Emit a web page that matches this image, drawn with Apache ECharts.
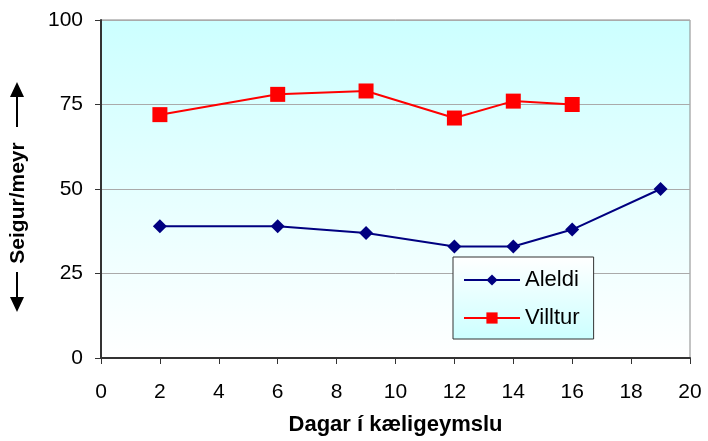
<!DOCTYPE html>
<html>
<head>
<meta charset="utf-8">
<script src="https://cdn.jsdelivr.net/npm/echarts@6/dist/echarts.min.js"></script>
<style>
  html, body { margin: 0; padding: 0; background: #fff; }
  #chart { width: 708px; height: 441px; }
</style>
</head>
<body>
<div id="chart"></div>
<script>
// dagar í kæligeymslu
const aleldiDays = [2, 6, 9, 12, 14, 16, 19]
const aleldiValues = [39, 39, 37, 33, 33, 38, 50]
const villturDays = [2, 6, 9, 12, 14, 16]
const villturValues = [72, 78, 79, 71, 76, 75]
const yTicks = [0, 25, 50, 75, 100]

const font = 'Liberation Sans, Arial, sans-serif'
const chart = echarts.init(document.getElementById('chart'))

const option = {
  animation: false,
  textStyle: { fontFamily: font },
  grid: {
    left: 101, right: 18, top: 20, bottom: 81,
    show: true,
    borderColor: '#888',
    borderWidth: 1,
    backgroundColor: new echarts.graphic.LinearGradient(0, 0, 0, 1, [
      { offset: 0, color: '#ccffff' },
      { offset: 1, color: '#ffffff' }
    ])
  },
  legend: {
    orient: 'vertical',
    left: 453,
    top: 257,
    itemWidth: 56,
    itemHeight: 14,
    itemGap: 16,
    padding: [12, 14, 10, 10],
    borderColor: '#333',
    borderWidth: 1,
    backgroundColor: new echarts.graphic.LinearGradient(0, 0, 0, 1, [
      { offset: 0, color: '#ffffff' },
      { offset: 1, color: '#ccffff' }
    ]),
    textStyle: { fontSize: 22, color: '#000', fontFamily: font },
    data: ['Aleldi', 'Villtur']
  },
  xAxis: {
    type: 'value',
    min: 0, max: 20, interval: 2,
    name: 'Dagar í kæligeymslu',
    nameLocation: 'middle',
    nameGap: 56,
    nameTextStyle: { fontSize: 22, fontWeight: 'bold', color: '#000', fontFamily: font },
    axisLine: { onZero: false, lineStyle: { color: '#333', width: 2 } },
    axisTick: { show: true, length: 6, inside: false, lineStyle: { color: '#333' } },
    axisLabel: { fontSize: 21, color: '#000', margin: 24, fontFamily: font },
    splitLine: { show: false }
  },
  yAxis: {
    type: 'value',
    min: 0, max: 100, interval: 25,
    axisLine: { show: true, lineStyle: { color: '#333', width: 2 } },
    axisTick: { show: true, length: 6, lineStyle: { color: '#333' } },
    axisLabel: {
      fontSize: 21, color: '#000', margin: 18, fontFamily: font,
      formatter: v => yTicks.includes(v) ? String(v) : ''
    },
    splitLine: { show: true, lineStyle: { color: '#aaa', width: 1 } }
  },
  series: [
    {
      name: 'Aleldi',
      type: 'line',
      data: aleldiDays.map((d, i) => [d, aleldiValues[i]]),
      symbol: 'diamond',
      symbolSize: 14,
      color: '#000080',
      lineStyle: { color: '#000080', width: 2 },
      itemStyle: { color: '#000080' }
    },
    {
      name: 'Villtur',
      type: 'line',
      data: villturDays.map((d, i) => [d, villturValues[i]]),
      symbol: 'rect',
      symbolSize: 15,
      color: '#ff0000',
      lineStyle: { color: '#ff0000', width: 2 },
      itemStyle: { color: '#ff0000' }
    }
  ],
  graphic: [
    {
      type: 'text',
      x: 18, y: 203,
      rotation: Math.PI / 2,
      style: {
        text: 'Seigur/meyr',
        font: 'bold 21px ' + font,
        fill: '#000',
        align: 'center',
        verticalAlign: 'middle'
      }
    },
    // örvar
    { type: 'line', shape: { x1: 17, y1: 127, x2: 17, y2: 96 }, style: { stroke: '#000', lineWidth: 2 } },
    { type: 'polygon', shape: { points: [[17, 82], [10, 97], [24, 97]] }, style: { fill: '#000' } },
    { type: 'line', shape: { x1: 17, y1: 272, x2: 17, y2: 298 }, style: { stroke: '#000', lineWidth: 2 } },
    { type: 'polygon', shape: { points: [[17, 312], [10, 297], [24, 297]] }, style: { fill: '#000' } }
  ]
}

chart.setOption(option)
</script>
</body>
</html>
